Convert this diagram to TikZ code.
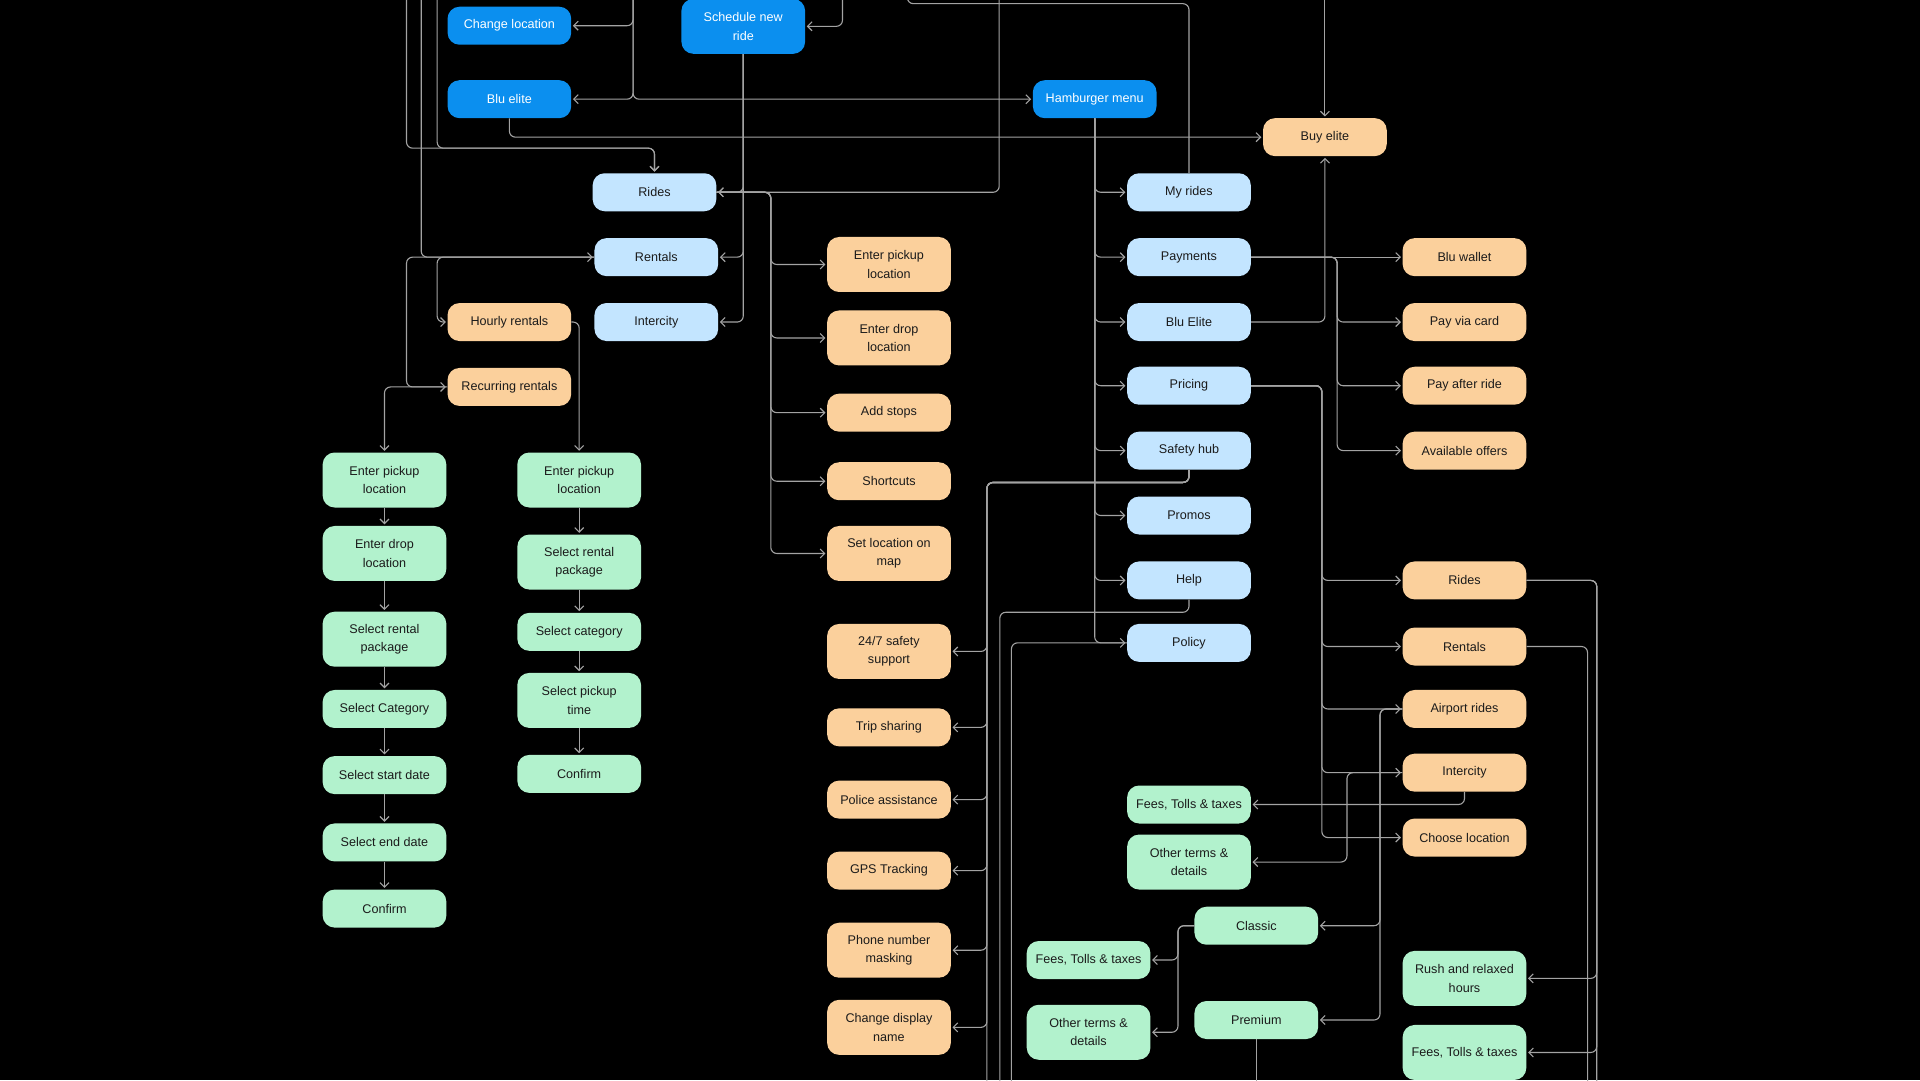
\documentclass[tikz,border=0pt]{standalone}
\usepackage{fontspec}
\setmainfont{Liberation Sans}
\usetikzlibrary{arrows.meta}
\definecolor{dblue}{HTML}{0B8FEF}
\definecolor{lblue}{HTML}{C3E5FF}
\definecolor{peach}{HTML}{FBD09C}
\definecolor{mint}{HTML}{B2F2CD}
\definecolor{wirec}{HTML}{A3A3A3}
\definecolor{ink}{HTML}{1B1B1B}
\begin{document}
\begin{tikzpicture}[x=1.2245pt,y=-1.2245pt,
 box/.style={rectangle, rounded corners=12pt, minimum width=123.7pt, minimum height=38pt, inner sep=0pt, align=center, font=\fontsize{12.6}{18.4}\selectfont, text=ink},
 tall/.style={minimum height=55pt},
 nb/.style={box, fill=dblue, text=white},
 nl/.style={box, fill=lblue},
 np/.style={box, fill=peach},
 ng/.style={box, fill=mint},
 link/.style={draw=wirec, line width=1.1pt, rounded corners=6pt},
 arr/.style={link, shorten >=1.5pt, -{Straight Barb[length=4.5pt,width=9pt,line width=1.1pt]}},
]
\useasboundingbox (0,0) rectangle (1568,882);
\fill[black] (0,0) rectangle (1568,882);

% ---------- nodes ----------
\node[nb] (chloc) at (416,21) {Change location};
\node[nb] (blu) at (416,81) {Blu elite};
\node[nb,tall] (sched) at (607,21.5) {Schedule new\\ride};
\node[nb] (hamb) at (894,81) {Hamburger menu};
\node[np] (buy) at (1082,112) {Buy elite};

\node[nl] (rides) at (534.5,157) {Rides};
\node[nl] (rentals) at (536,210) {Rentals};
\node[nl] (intercity) at (536,263) {Intercity};
\node[np] (hourly) at (416,263) {Hourly rentals};
\node[np] (recur) at (416,316) {Recurring rentals};

\node[np,tall] (epl) at (726,216) {Enter pickup\\location};
\node[np,tall] (edl) at (726,276) {Enter drop\\location};
\node[np] (stops) at (726,337) {Add stops};
\node[np] (short) at (726,393) {Shortcuts};
\node[np,tall] (setloc) at (726,452) {Set location on\\map};
\node[np,tall] (sos) at (726,532) {24/7 safety\\support};
\node[np] (trip) at (726,594) {Trip sharing};
\node[np] (police) at (726,653) {Police assistance};
\node[np] (gps) at (726,711) {GPS Tracking};
\node[np,tall] (phone) at (726,776) {Phone number\\masking};
\node[np,tall] (cdn) at (726,839) {Change display\\name};

\node[nl] (myrides) at (971,157) {My rides};
\node[nl] (pay) at (971,210) {Payments};
\node[nl] (bluel) at (971,263) {Blu Elite};
\node[nl] (pricing) at (971,315) {Pricing};
\node[nl] (safety) at (971,368) {Safety hub};
\node[nl] (promos) at (971,421) {Promos};
\node[nl] (help) at (971,474) {Help};
\node[nl] (policy) at (971,525) {Policy};

\node[np] (wallet) at (1196,210) {Blu wallet};
\node[np] (card) at (1196,263) {Pay via card};
\node[np] (after) at (1196,315) {Pay after ride};
\node[np] (offers) at (1196,368) {Available offers};

\node[np] (rides2) at (1196,474) {Rides};
\node[np] (rentals2) at (1196,528) {Rentals};
\node[np] (airport) at (1196,579) {Airport rides};
\node[np] (inter2) at (1196,631) {Intercity};
\node[np] (choose) at (1196,684) {Choose location};

\node[ng] (fees1) at (971,657) {Fees, Tolls \& taxes};
\node[ng,tall] (other1) at (971,704) {Other terms \&\\details};
\node[ng] (classic) at (1026,756) {Classic};
\node[ng] (fees2) at (889,784) {Fees, Tolls \& taxes};
\node[ng,tall] (other2) at (889,843) {Other terms \&\\details};
\node[ng] (premium) at (1026,833) {Premium};
\node[ng,tall] (rush) at (1196,799) {Rush and relaxed\\hours};
\node[ng,tall] (fees3) at (1196,859.5) {Fees, Tolls \& taxes};

\node[ng,tall] (g1) at (314,392) {Enter pickup\\location};
\node[ng,tall] (g2) at (314,452) {Enter drop\\location};
\node[ng,tall] (g3) at (314,522) {Select rental\\package};
\node[ng] (g4) at (314,579) {Select Category};
\node[ng] (g5) at (314,633) {Select start date};
\node[ng] (g6) at (314,688) {Select end date};
\node[ng] (g7) at (314,742) {Confirm};

\node[ng,tall] (h1) at (473,392) {Enter pickup\\location};
\node[ng,tall] (h2) at (473,459) {Select rental\\package};
\node[ng] (h3) at (473,516) {Select category};
\node[ng,tall] (h4) at (473,572) {Select pickup\\time};
\node[ng] (h5) at (473,632) {Confirm};

% ---------- free ends ----------
\coordinate (t332) at (332,-3);
\coordinate (t344) at (344,-3);
\coordinate (t357) at (357,-3);
\coordinate (t517) at (517,-3);
\coordinate (t688) at (688,-3);
\coordinate (t741) at (741,-3);
\coordinate (t816) at (816,-3);
\coordinate (t1082) at (1082,-3);
\coordinate (b806) at (806,885);
\coordinate (b816) at (816.5,885);
\coordinate (b826) at (826,885);
\coordinate (b1026) at (1026,885);
\coordinate (b1296) at (1296.5,885);
\coordinate (b1304) at (1304,885);

% ---------- connectors ----------
\draw[arr] (t332) -- (332,121) -| (rides.north);
\draw[arr] (t357) -- (357,121) -| (rides.north);
\draw[arr] (t344) |- (rentals.west);
\draw[arr] (rentals.west) -- (357,210) |- (hourly.west);
\draw[arr] (rentals.west) -- (332,210) |- (recur.west);
\draw[arr] (recur.west) -- (314,316) -- (g1.north);
\draw[arr] (hourly.east) -| (h1.north);

\foreach \a/\b in {g1/g2,g2/g3,g3/g4,g4/g5,g5/g6,g6/g7,h1/h2,h2/h3,h3/h4,h4/h5}
  \draw[arr] (\a.south) -- (\b.north);

\draw[arr] (t517) |- (chloc.east);
\draw[arr] (t517) |- (blu.east);
\draw[arr] (t517) -- (517,81) -- (hamb.west);
\draw[arr] (t688) |- (sched.east);
\draw[link] (myrides.north) -- (971,3) -- (741,3) -- (t741);
\draw[arr] (t816) |- (rides.east);

\draw[arr] (sched.south) |- (rides.east);
\draw[arr] (sched.south) |- (rentals.east);
\draw[arr] (sched.south) |- (intercity.east);

\foreach \n in {epl,edl,stops,short,setloc}
  \draw[arr] (rides.east) -- (629.5,157) |- (\n.west);

\draw[arr] (blu.south) |- (buy.west);
\draw[arr] (t1082) -- (buy.north);
\draw[arr] (bluel.east) -| (buy.south);

\foreach \n in {myrides,pay,bluel,pricing,safety,promos,help,policy}
  \draw[arr] (hamb.south) |- (\n.west);

\draw[arr] (pay.east) -- (wallet.west);
\foreach \n in {card,after,offers}
  \draw[arr] (pay.east) -- (1092,210) |- (\n.west);

\foreach \n in {rides2,rentals2,airport,inter2,choose}
  \draw[arr] (pricing.east) -- (1079.5,315) |- (\n.west);

\foreach \n in {sos,trip,police,gps,phone,cdn}
  \draw[arr] (safety.south) -- (971,394) -- (806,394) |- (\n.east);
\draw[link] (safety.south) -- (971,394) -- (806,394) -- (b806);

\draw[link] (help.south) -- (971,500) -- (816.5,500) -- (b816);
\draw[link] (policy.west) -- (826,525) -- (b826);

\draw[arr] (rides2.east) -- (1304,474) |- (rush.east);
\draw[arr] (rides2.east) -- (1304,474) |- (fees3.east);
\draw[link] (rides2.east) -- (1304,474) -- (b1304);
\draw[link] (rentals2.east) -- (1296.5,528) -- (b1296);

\draw[arr] (airport.west) -- (1127,579) |- (classic.east);
\draw[arr] (airport.west) -- (1127,579) |- (premium.east);
\draw[arr] (inter2.west) -- (1100,631) |- (other1.east);
\draw[arr] (inter2.south) |- (fees1.east);

\draw[arr] (classic.west) -- (962,756) |- (fees2.east);
\draw[arr] (classic.west) -- (962,756) |- (other2.east);
\draw[link] (premium.south) -- (b1026);
\end{tikzpicture}
\end{document}
